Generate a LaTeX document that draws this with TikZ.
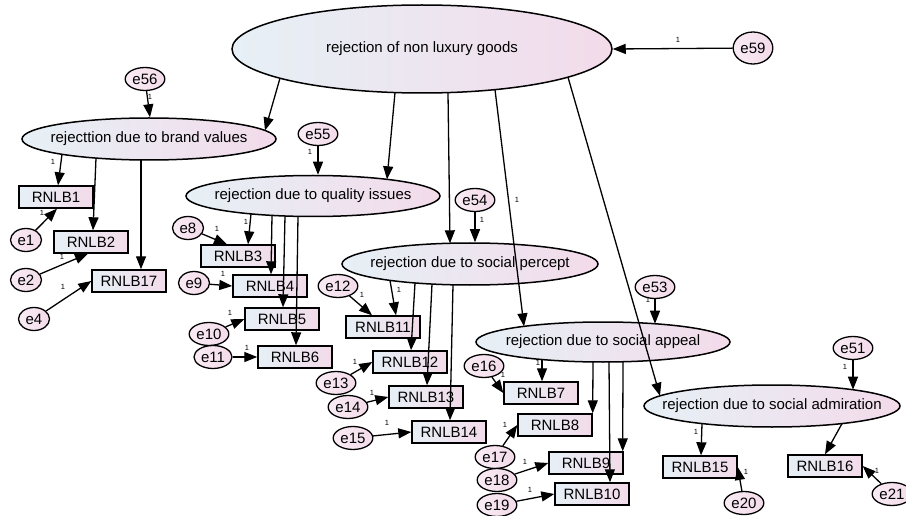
\documentclass[tikz,border=0pt]{standalone}
\usepackage{fontspec}
\setmainfont{Liberation Sans}
\usetikzlibrary{positioning,calc,arrows.meta,shapes.geometric}
\definecolor{shadeL}{RGB}{230,240,246}
\definecolor{shadeR}{RGB}{243,219,234}
\tikzset{
  latent/.style  = {ellipse,draw,line width=1.5pt,inner xsep=-30pt,inner ysep=0pt,
                    left color=shadeL,right color=shadeR,
                    font=\fontsize{15}{17}\selectfont},
  item/.style    = {rectangle,draw,line width=1.4pt,inner sep=0pt,
                    minimum width=74pt,minimum height=22pt,
                    left color=shadeL,right color=shadeR,
                    font=\fontsize{15}{17}\selectfont},
  errterm/.style = {ellipse,draw,line width=1.3pt,inner xsep=1.5pt,inner ysep=0pt,
                    minimum width=31pt,minimum height=23pt,
                    left color=shadeR!55!white,right color=shadeR,
                    font=\fontsize{15}{17}\selectfont},
  loading/.style = {->,line width=1.3pt},
  weight/.style  = {inner sep=0pt,font=\fontsize{7.5}{8}\selectfont},
  >={Triangle[length=13pt,width=10pt]}
}
\newcommand{\DrawError}[4]{%
  % error term (small ellipse)
  \node[errterm] (#1) at #2 {#1};
  % its path to the item, fixed to 1
  \draw[loading] (#1) -- #3 node[weight] at #4 {1};
}

\begin{document}
\begin{tikzpicture}[x=1pt,y=-1pt]
    \useasboundingbox (0,0) rectangle (906,516);

    \node[latent,minimum width=380pt,minimum height=88pt] (goods) at (422,49) {rejection of non luxury goods};
    \node[latent,minimum width=254pt,minimum height=42pt] (brand) at (149,139) {rejecttion due to brand values};
    \node[latent,minimum width=254pt,minimum height=41pt] (quality) at (313,196) {rejection due to quality issues};
    \node[latent,minimum width=256pt,minimum height=42pt] (percept) at (470,264) {rejection due to social percept};
    \node[latent,minimum width=254pt,minimum height=40pt] (appeal) at (603,342) {rejection due to social appeal};
    \node[latent,minimum width=256pt,minimum height=42pt] (admir) at (772,406) {rejection due to social admiration};

    \node[item] (RNLB1)  at (56,197)  {RNLB1};
    \node[item] (RNLB2)  at (91,242)  {RNLB2};
    \node[item] (RNLB17) at (129,281) {RNLB17};
    \node[item] (RNLB3)  at (238,256) {RNLB3};
    \node[item] (RNLB4)  at (270,286) {RNLB4};
    \node[item] (RNLB5)  at (282,319) {RNLB5};
    \node[item] (RNLB6)  at (295,357) {RNLB6};
    \node[item] (RNLB11) at (383,327) {RNLB11};
    \node[item] (RNLB12) at (410,362) {RNLB12};
    \node[item] (RNLB13) at (426,397) {RNLB13};
    \node[item] (RNLB14) at (449,432) {RNLB14};
    \node[item] (RNLB7)  at (541,393) {RNLB7};
    \node[item] (RNLB8)  at (555,425) {RNLB8};
    \node[item] (RNLB9)  at (586,463) {RNLB9};
    \node[item] (RNLB10) at (592,494) {RNLB10};
    \node[item] (RNLB15) at (700,467) {RNLB15};
    \node[item] (RNLB16) at (825,466) {RNLB16};

    \node[errterm,minimum height=32pt] (e59) at (753,48) {e59};
    \node[errterm] (e56) at (145,79)  {e56};
    \node[errterm] (e55) at (318,134) {e55};
    \node[errterm] (e54) at (475,200) {e54};
    \node[errterm] (e53) at (655,287) {e53};
    \node[errterm] (e51) at (853,348) {e51};

    \draw[loading] (e59) -- (goods.east) node[weight] at (678,40) {1};
    \draw[loading] (e56) -- ([xshift=1pt]brand.north) node[weight] at (150,97) {1};
    \draw[loading] (e55) -- ([xshift=5pt]quality.north) node[weight] at (310,152) {1};
    \draw[loading] (e54) -- ([xshift=5pt]percept.north) node[weight] at (482,220) {1};
    \draw[loading] (e53) -- ($(appeal.center)+(52,-18.3)$) node[weight] at (648,300) {1};
    \draw[loading] (e51) -- ($(admir.center)+(81,-16.3)$) node[weight] at (845,367) {1};

    \draw[loading] ($(goods.center)+(-142,29.2)$) -- ($(brand.center)+(116,-8.5)$);
    \draw[loading] ($(goods.center)+(-27,43.6)$) -- ($(quality.center)+(74,-16.7)$);
    \draw[loading] ($(goods.center)+(26,43.6)$) -- ($(percept.center)+(-20,-20.7)$);
    \draw[loading] ($(goods.center)+(73,40.6)$) -- ($(appeal.center)+(-79,-15.7)$)
      node[weight] at (517,200) {1};
    \draw[loading] ($(goods.center)+(146,28.2)$) -- ($(admir.center)+(-112,-10.2)$);

    \draw[loading] ($(brand.center)+(-87,15.3)$) -- ([xshift=2pt]RNLB1.north)
      node[weight] at (53,162) {1};
    \draw[loading] ($(brand.center)+(-53,19.1)$) -- ([xshift=2pt]RNLB2.north);
    \draw[loading] ($(brand.center)+(-8,21)$) -- ([xshift=12pt]RNLB17.north);

    \draw[loading] ($(quality.center)+(-62,17.9)$) -- ([xshift=10pt]RNLB3.north)
      node[weight] at (246,222) {1};
    \draw[loading] ($(quality.center)+(-41,19.4)$) -- ([xshift=1pt]RNLB4.north);
    \draw[loading] ($(quality.center)+(-28,20)$) -- ([xshift=1pt]RNLB5.north);
    \draw[loading] ($(quality.center)+(-15,20.4)$) -- ([xshift=1pt]RNLB6.north);

    \draw[loading] ($(percept.center)+(-80,16.4)$) -- ([xshift=13pt]RNLB11.north)
      node[weight] at (399,290) {1};
    \draw[loading] ($(percept.center)+(-55,19)$) -- ([xshift=1pt]RNLB12.north);
    \draw[loading] ($(percept.center)+(-38,20.1)$) -- ([xshift=1pt]RNLB13.north);
    \draw[loading] ($(percept.center)+(-17,20.8)$) -- ([xshift=1pt]RNLB14.north);

    \draw[loading] ($(appeal.center)+(-61,17.5)$) -- ([xshift=1pt]RNLB7.north)
      node[weight] at (538,363) {1};
    \draw[loading] ($(appeal.center)+(-10,19.9)$) -- (RNLB8.north east);
    \draw[loading] ($(appeal.center)+(20,19.75)$) -- ([xshift=-1pt]RNLB9.north east);
    \draw[loading] ($(appeal.center)+(6,20)$) -- ([xshift=18pt]RNLB10.north);

    \draw[loading] ($(admir.center)+(-70,17.6)$) -- ([xshift=1pt]RNLB15.north)
      node[weight] at (696,432) {1};
    \draw[loading] ($(admir.center)+(70,17.6)$) -- (RNLB16.north);

    \DrawError{e1}{(26,240)}{([xshift=1pt]RNLB1.south)}{(42,213)}
    \DrawError{e2}{(26,280)}{([xshift=-3pt]RNLB2.south)}{(62,257)}
    \DrawError{e4}{(34,319)}{(RNLB17.west)}{(63,287)}
    \DrawError{e8}{(188,228)}{([xshift=-11pt]RNLB3.north)}{(217,229)}
    \DrawError{e9}{(194,283)}{(RNLB4.west)}{(223,274)}
    \DrawError{e10}{(209,334)}{(RNLB5.west)}{(230,313)}
    \DrawError{e11}{(213,357)}{(RNLB6.west)}{(247,348)}
    \DrawError{e12}{(338,286)}{([xshift=-11pt]RNLB11.north)}{(362,295)}
    \DrawError{e13}{(336,383)}{(RNLB12.west)}{(355,362)}
    \DrawError{e14}{(348,407)}{(RNLB13.west)}{(372,393)}
    \DrawError{e15}{(353,438)}{(RNLB14.west)}{(387,423)}
    \DrawError{e16}{(484,366)}{(RNLB7.west)}{(503,375)}
    \DrawError{e17}{(495,457)}{(RNLB8.west)}{(505,425)}
    \DrawError{e18}{(497,480)}{(RNLB9.west)}{(525,462)}
    \DrawError{e19}{(497,505)}{(RNLB10.west)}{(530,490)}
    \DrawError{e20}{(744,503)}{(RNLB15.east)}{(746,472)}
    \DrawError{e21}{(892,494)}{(RNLB16.east)}{(877,471)}
\end{tikzpicture}
\end{document}
